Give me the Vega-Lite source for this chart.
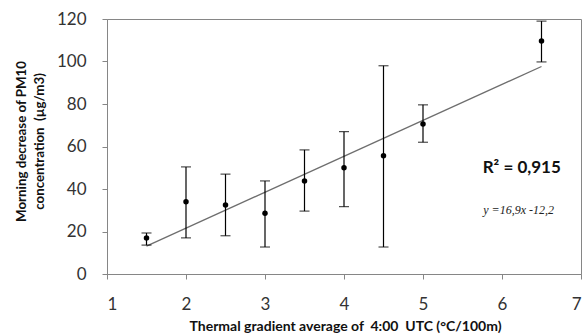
{
  "$schema": "https://vega.github.io/schema/vega-lite/v6.json",
  "autosize": "none",
  "width": 474,
  "height": 255,
  "padding": {"left": 107, "top": 19, "right": 6, "bottom": 61},
  "background": "white",
  "config": {
    "view": {"stroke": "#868686", "strokeWidth": 1},
    "font": "Lato"
  },
  "datasets": {
    "obs": [
      {"g": 1.5, "pm": 17, "lo": 13.6, "hi": 19.3},
      {"g": 2.0, "pm": 34, "lo": 17, "hi": 50.4},
      {"g": 2.5, "pm": 32.5, "lo": 18, "hi": 47},
      {"g": 3.0, "pm": 28.6, "lo": 12.7, "hi": 43.8},
      {"g": 3.5, "pm": 43.8, "lo": 29.6, "hi": 58.4},
      {"g": 4.0, "pm": 50, "lo": 31.7, "hi": 67},
      {"g": 4.5, "pm": 55.7, "lo": 12.7, "hi": 98},
      {"g": 5.0, "pm": 70.6, "lo": 62, "hi": 79.6},
      {"g": 6.5, "pm": 109.6, "lo": 99.8, "hi": 119}
    ],
    "trend": [
      {"g": 1.5, "pm": 13.15},
      {"g": 6.5, "pm": 97.65}
    ],
    "notes": [
      {"g": 6.25, "pm": 50, "label": "R² = 0,915", "kind": "r2"},
      {"g": 6.21, "pm": 30, "label": "y =16,9x -12,2", "kind": "eq"}
    ]
  },
  "layer": [
    {
      "data": {"name": "trend"},
      "mark": {"type": "line", "color": "#6e6e6e", "strokeWidth": 1.3},
      "encoding": {
        "x": {
          "field": "g", "type": "quantitative",
          "scale": {"domain": [1, 7], "nice": false, "zero": false},
          "axis": {
            "values": [1, 2, 3, 4, 5, 6, 7],
            "format": "d",
            "grid": false,
            "domainColor": "#868686",
            "tickColor": "#868686",
            "tickSize": 5,
            "labelFontSize": 17,
            "labelColor": "#333333",
            "labelPadding": 17,
            "labelFont": "Lato",
            "title": "Thermal gradient average of\u00a0\u00a04:00\u00a0\u00a0UTC (°C/100m)",
            "titleFont": "Lato",
            "titleFontSize": 14,
            "titleFontWeight": "bold",
            "titleColor": "#111111",
            "titleX": 238,
            "titleY": 52,
            "titleAnchor": null,
            "titleBaseline": "middle"
          }
        },
        "y": {
          "field": "pm", "type": "quantitative",
          "scale": {"domain": [0, 120], "nice": false},
          "axis": {
            "values": [0, 20, 40, 60, 80, 100, 120],
            "grid": false,
            "domainColor": "#868686",
            "tickColor": "#868686",
            "tickSize": 5,
            "labelFontSize": 17,
            "labelColor": "#333333",
            "labelPadding": 16,
            "labelFont": "Lato",
            "title": ["Morning decrease of PM10", "concentration\u00a0\u00a0(µg/m3)"],
            "titleFont": "Lato",
            "titleFontSize": 13.3,
            "titleFontWeight": "bold",
            "titleColor": "#111111",
            "titleLineHeight": 18,
            "titleAngle": -90,
            "titleAlign": "center",
            "titleBaseline": "top",
            "titleX": -93,
            "titleY": 122
          }
        }
      }
    },
    {
      "data": {"name": "obs"},
      "mark": {"type": "rule", "color": "#000000", "strokeWidth": 1.2},
      "encoding": {
        "x": {"field": "g", "type": "quantitative"},
        "y": {"field": "lo", "type": "quantitative"},
        "y2": {"field": "hi"}
      }
    },
    {
      "data": {"name": "obs"},
      "mark": {"type": "tick", "orient": "horizontal", "color": "#000000", "thickness": 1.2, "size": 10},
      "encoding": {
        "x": {"field": "g", "type": "quantitative"},
        "y": {"field": "lo", "type": "quantitative"}
      }
    },
    {
      "data": {"name": "obs"},
      "mark": {"type": "tick", "orient": "horizontal", "color": "#000000", "thickness": 1.2, "size": 10},
      "encoding": {
        "x": {"field": "g", "type": "quantitative"},
        "y": {"field": "hi", "type": "quantitative"}
      }
    },
    {
      "data": {"name": "obs"},
      "mark": {"type": "point", "filled": true, "color": "#000000", "opacity": 1, "size": 30},
      "encoding": {
        "x": {"field": "g", "type": "quantitative"},
        "y": {"field": "pm", "type": "quantitative"}
      }
    },
    {
      "data": {"name": "notes"},
      "transform": [{"filter": "datum.kind == 'r2'"}],
      "mark": {"type": "text", "font": "Lato", "fontSize": 17, "fontWeight": "bold", "color": "#111111", "align": "center", "baseline": "middle"},
      "encoding": {
        "x": {"field": "g", "type": "quantitative"},
        "y": {"field": "pm", "type": "quantitative"},
        "text": {"field": "label"}
      }
    },
    {
      "data": {"name": "notes"},
      "transform": [{"filter": "datum.kind == 'eq'"}],
      "mark": {"type": "text", "font": "Liberation Serif", "fontSize": 12, "fontStyle": "italic", "color": "#222222", "align": "center", "baseline": "middle"},
      "encoding": {
        "x": {"field": "g", "type": "quantitative"},
        "y": {"field": "pm", "type": "quantitative"},
        "text": {"field": "label"}
      }
    }
  ]
}
